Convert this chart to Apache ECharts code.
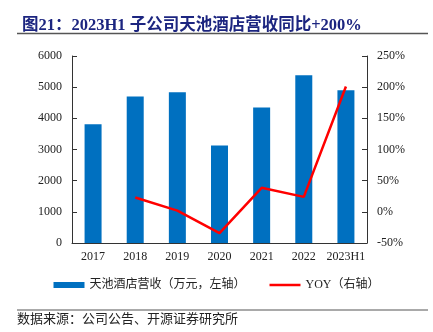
<!DOCTYPE html>
<html><head><meta charset="utf-8">
<script src="https://cdn.jsdelivr.net/npm/echarts@6/dist/echarts.min.js"></script>
<style>html,body{margin:0;padding:0;background:#fff}#c{width:433px;height:332px}</style>
</head><body><div id="c"></div>
<script>
var categories = ['2017','2018','2019','2020','2021','2022','2023H1'];
var revenue = [3810, 4700, 4840, 3130, 4350, 5380, 4900];
var yoy = [null, 23, 2, -34, 38.5, 24, 201];
var leftTicks = {min: 0, max: 6000, interval: 1000};
var rightTicks = {min: -50, max: 250, interval: 50};

var serif = '"Liberation Serif","Times New Roman","Noto Sans CJK SC",serif';
var chart = echarts.init(document.getElementById('c'), null, {renderer: 'canvas'});
chart.setOption({
  animation: false,
  backgroundColor: '#fff',
  title: {
    text: '图21：2023H1 子公司天池酒店营收同比+200%',
    left: 17, top: 12,
    textStyle: {fontFamily: serif, fontSize: 16.5, fontWeight: 'bold', color: '#1c2580'}
  },
  graphic: [
    {type: 'line', shape: {x1: 17, y1: 33.5, x2: 428, y2: 33.5}, style: {stroke: '#555', lineWidth: 1.5}},
    {type: 'line', shape: {x1: 17, y1: 310, x2: 428, y2: 310}, style: {stroke: '#555', lineWidth: 1}},
    {type: 'text', left: 17, top: 313, style: {text: '数据来源：公司公告、开源证券研究所', font: '13px ' + serif, fill: '#222'}}
  ],
  legend: {
    bottom: 36, left: 'center', itemGap: 24,
    textStyle: {fontFamily: serif, fontSize: 12, color: '#222'},
    data: [
      {name: '天池酒店营收（万元，左轴）', icon: 'rect'},
      {name: 'YOY（右轴）', icon: 'path://M0,0L31,0L31,2.5L0,2.5Z'}
    ],
    itemWidth: 31, itemHeight: 6
  },
  grid: {left: 72, right: 66, top: 56, bottom: 89},
  xAxis: {
    type: 'category', data: categories,
    axisLine: {lineStyle: {color: '#333', width: 1}},
    axisTick: {inside: true, alignWithLabel: false, lineStyle: {color: '#333'}},
    axisLabel: {fontFamily: serif, fontSize: 12, color: '#222', margin: 8, interval: 0}
  },
  yAxis: [
    {type: 'value', min: leftTicks.min, max: leftTicks.max, interval: leftTicks.interval,
     splitLine: {show: false},
     axisLine: {show: true, lineStyle: {color: '#333'}},
     axisTick: {show: true, inside: true, lineStyle: {color: '#333'}},
     axisLabel: {fontFamily: serif, fontSize: 12, color: '#222', margin: 10, formatter: function (v) { return String(v); }}},
    {type: 'value', min: rightTicks.min, max: rightTicks.max, interval: rightTicks.interval,
     splitLine: {show: false},
     axisLine: {show: true, lineStyle: {color: '#333'}},
     axisTick: {show: true, inside: true, lineStyle: {color: '#333'}},
     axisLabel: {fontFamily: serif, fontSize: 12, color: '#222', margin: 10, formatter: '{value}%'}}
  ],
  series: [
    {name: '天池酒店营收（万元，左轴）', type: 'bar', data: revenue, barWidth: 17,
     itemStyle: {color: '#0070c0'}},
    {name: 'YOY（右轴）', type: 'line', yAxisIndex: 1, data: yoy, symbol: 'none',
     lineStyle: {color: '#ff0000', width: 2.5}, itemStyle: {color: '#ff0000'}}
  ]
});
</script></body></html>
